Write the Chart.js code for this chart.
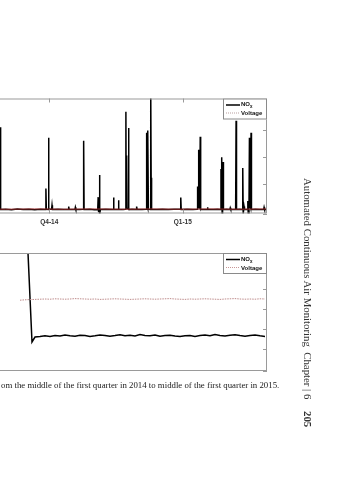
<!DOCTYPE html>
<html>
<head>
<meta charset="utf-8">
<script src="https://cdn.jsdelivr.net/npm/chart.js"></script>
<style>
  body { margin: 0; background: #fff; width: 359px; height: 480px; overflow: hidden; position: relative; }
  canvas { position: absolute; }
  #topChart { left: -20px; top: 90px; }
  #bottomChart { left: -20px; top: 245px; }
  .caption { position: absolute; left: 1px; top: 380px; font: 8.8px "Liberation Serif", serif; color: #1a1a1a; white-space: nowrap; will-change: transform; }
  .running { position: absolute; left: 302px; top: 178px; writing-mode: vertical-rl; font: 10.8px "Liberation Serif", serif; color: #333; white-space: nowrap; will-change: transform; }
  .running b { margin-top: 9px; display: inline-block; }
</style>
</head>
<body>
<canvas id="topChart" width="290" height="140"></canvas>
<canvas id="bottomChart" width="290" height="127"></canvas>
<div class="caption">om the middle of the first quarter in 2014 to middle of the first quarter in 2015.</div>
<div class="running">Automated Continuous Air Monitoring&nbsp; Chapter | 6 <b>205</b></div>

<script>
// top panel: days counted from the start of Q4-14
const quarterTicks = [0, 92];
const quarterLabels = ['Q4-14', 'Q1-15'];

const noxDays = [
  -47, -40, -35, -34.3, -33.9, -33.5, -30, -26, -22, -18, -14, -10, -6,
  -2.7, -2.3, -2.0, -0.8, -0.5, -0.2, 1.6, 1.9, 2.2, 6, 10,
  13.1, 13.4, 13.7, 17.7, 18, 18.3, 21, 23.4, 23.7, 24.0, 28, 31,
  33.4, 33.7, 34.0, 34.3, 34.6, 34.9, 35.2, 39, 44.0, 44.3, 44.6,
  47.4, 47.7, 48.0, 51, 52.5, 52.8, 53.0, 53.3, 53.6, 54.3, 54.6, 54.9,
  57, 60.0, 60.2, 60.5, 64, 66.8, 67.1, 67.4, 67.7, 68.0, 68.3,
  69.6, 69.9, 70.2, 70.5, 74, 78, 82, 86, 90.3, 90.6, 90.9, 95, 99,
  101.9, 102.2, 102.5, 102.8, 103.1, 103.7, 104.0, 104.3, 106,
  108.7, 109, 109.3, 113, 116, 118.0, 118.3, 118.5, 118.8, 119.1, 119.4, 119.7, 120.0,
  122, 124.4, 124.7, 125.0, 128.4, 128.7, 129.0, 131, 133.0, 133.3, 133.6, 134.2, 134.5,
  136.5, 136.8, 137.1, 137.6, 137.9, 138.2, 138.7, 139.0, 139.3, 142, 145,
  147.7, 148, 148.3, 150
];
const noxValues = [
  0.04, 0.05, 0.03, 0.04, 3.11, 0.04, 0.05, 0.03, 0.06, 0.04, 0.05, 0.03, 0.05,
  0.04, 0.82, 0.05, 0.04, 2.72, 0.06, 0.05, 0.2, 0.04, 0.05, 0.04,
  0.04, 0.15, 0.05, 0.04, 0.12, 0.05, 0.04, 0.05, 2.6, 0.04, 0.05, 0.03,
  0.04, 0.5, -0.05, 0.04, 1.33, -0.15, 0.04, 0.05, 0.04, 0.49, 0.05,
  0.04, 0.38, 0.05, 0.04, 0.05, 3.69, 0.3, 2.05, 0.1, 0.05, 3.08, 0.04,
  0.05, 0.04, 0.15, 0.05, 0.04, 0.05, 2.9, 0.2, 0.1, 2.99, 0.05,
  0.04, 4.6, 1.22, 0.05, 0.04, 0.05, 0.04, 0.05, 0.05, 0.49, 0.04, 0.05, 0.04,
  0.05, 0.9, 0.1, 2.27, 0.2, 0.1, 2.75, 0.05, 0.04,
  0.04, 0.12, 0.05, 0.04, 0.05, 0.04, 1.55, 0.1, 1.99, -0.1, 0.2, 1.81, 0.04,
  0.05, 0.04, 0.1, 0.05, 0.04, 3.35, 0.04, 0.05, 0.04, 1.59, -0.12, 0.15, 0.05,
  0.04, 0.36, -0.15, 0.1, 2.72, 0.2, 0.1, 2.9, 0.04, 0.05, 0.04,
  0.04, 0.12, 0.05, 0.04
];
const voltDays = [-47, -30, -10, 10, 30, 50, 70, 90, 110, 130, 150];
const voltValues = [0.06, 0.05, 0.06, 0.05, 0.06, 0.05, 0.06, 0.05, 0.06, 0.05, 0.06];

// bottom panel: hours from the start of the run, sampled every half hour
const runStep = 0.5;
const runNoxStart = [[0, 14.7], [1.2, 1.35]];
const runNox = [
  1.60, 1.62, 1.66, 1.63, 1.68, 1.65, 1.70, 1.66, 1.64, 1.69, 1.67, 1.63, 1.66, 1.70, 1.68, 1.64,
  1.67, 1.71, 1.66, 1.69, 1.65, 1.72, 1.68, 1.66, 1.70, 1.64, 1.67, 1.69, 1.65, 1.62, 1.66, 1.68,
  1.63, 1.67, 1.70, 1.66, 1.72, 1.68, 1.65, 1.69, 1.71, 1.67, 1.64, 1.68, 1.70, 1.66, 1.63
];
const runVoltage = [
  3.44, 3.46, 3.47, 3.48, 3.49, 3.50, 3.49, 3.51, 3.50, 3.49, 3.50, 3.52, 3.51, 3.50, 3.49, 3.50, 3.48,
  3.49, 3.50, 3.51, 3.50, 3.49, 3.48, 3.49, 3.50, 3.51, 3.50, 3.49, 3.50, 3.51, 3.52, 3.50, 3.49,
  3.48, 3.50, 3.49, 3.50, 3.51, 3.50, 3.49, 3.48, 3.50, 3.51, 3.52, 3.50, 3.49, 3.50, 3.49, 3.51, 3.50
];

const frame = {
  id: 'frame',
  afterDatasetsDraw(chart, args, opts) {
    const { ctx, chartArea: a, scales: { x, y } } = chart;
    ctx.save();
    ctx.setLineDash([]);
    ctx.strokeStyle = '#9a9a9a';
    ctx.lineWidth = 1;
    ctx.strokeRect(a.left + 0.5, a.top + 0.5, a.right - a.left - 1, a.bottom - a.top - 1);
    ctx.beginPath();
    y.ticks.forEach(t => {
      const py = Math.round(y.getPixelForValue(t.value)) + 0.5;
      ctx.moveTo(a.right, py); ctx.lineTo(a.right - 4, py);
    });
    if (opts.xTicks) {
      x.ticks.forEach(t => {
        const px = Math.round(x.getPixelForValue(t.value)) + 0.5;
        ctx.moveTo(px, a.top); ctx.lineTo(px, a.top + 4);
        ctx.moveTo(px, a.bottom); ctx.lineTo(px, a.bottom - 4);
      });
    }
    ctx.stroke();

    // legend box in the upper right corner
    const lw = 44, lh = 21, lx = a.right - lw, ly = a.top;
    ctx.fillStyle = '#fff';
    ctx.fillRect(lx, ly, lw, lh);
    ctx.strokeStyle = '#8a8a8a';
    ctx.strokeRect(lx + 0.5, ly + 0.5, lw - 1, lh - 1);
    chart.data.datasets.forEach((ds, i) => {
      const yy = ly + 6.5 + i * 8;
      ctx.strokeStyle = ds.legendColor;
      ctx.lineWidth = ds.legendWidth;
      ctx.setLineDash(ds.legendDash);
      ctx.beginPath(); ctx.moveTo(lx + 3, yy); ctx.lineTo(lx + 17, yy); ctx.stroke();
      ctx.fillStyle = '#111';
      ctx.textBaseline = 'middle';
      ctx.font = 'bold 6px Arial';
      if (ds.label === 'NOx') {
        ctx.fillText('NO', lx + 18, yy - 0.5);
        ctx.font = 'bold 4.5px Arial';
        ctx.fillText('x', lx + 18 + ctx.measureText('NO').width * 1.35, yy + 1.8);
      } else {
        ctx.fillText(ds.label, lx + 18, yy + 0.5);
      }
    });
    ctx.restore();
  }
};

new Chart('topChart', {
  type: 'line',
  data: {
    datasets: [{
      label: 'NOx',
      data: noxDays.map((d, i) => ({ x: d, y: noxValues[i] })),
      borderColor: '#000',
      borderWidth: 1.5,
      pointRadius: 0,
      tension: 0,
      order: 1,
      legendColor: '#000', legendWidth: 1.5, legendDash: []
    }, {
      label: 'Voltage',
      data: voltDays.map((d, i) => ({ x: d, y: voltValues[i] })),
      borderColor: 'rgba(165,45,45,0.9)',
      borderWidth: 1,
      pointRadius: 0,
      tension: 0,
      order: 0,
      legendColor: '#b9a0a0', legendWidth: 1, legendDash: [1, 1]
    }]
  },
  options: {
    responsive: false,
    animation: false,
    layout: { padding: { top: 8.5, right: 3, bottom: 0.5, left: 0 } },
    plugins: { legend: { display: false }, tooltip: { enabled: false }, frame: { xTicks: true } },
    scales: {
      x: {
        type: 'linear', min: -47.7, max: 150,
        grid: { display: false }, border: { display: false },
        afterBuildTicks: s => { s.ticks = quarterTicks.map(v => ({ value: v })); },
        afterFit: s => { s.height = 16; },
        ticks: {
          padding: -3, maxRotation: 0, color: '#333', font: { size: 6.5, family: 'Arial', weight: 'bold' },
          callback: v => quarterLabels[quarterTicks.indexOf(v)]
        }
      },
      y: { display: false, min: -0.11, max: 4.18, ticks: { stepSize: 1 } }
    }
  },
  plugins: [frame]
});

new Chart('bottomChart', {
  type: 'line',
  data: {
    datasets: [{
      label: 'NOx',
      data: runNoxStart.map(p => ({ x: p[0], y: p[1] }))
        .concat(runNox.map((v, i) => ({ x: 1.5 + i * runStep, y: v }))),
      borderColor: '#000',
      borderWidth: 1.5,
      pointRadius: 0,
      tension: 0,
      order: 1,
      legendColor: '#000', legendWidth: 1.5, legendDash: []
    }, {
      label: 'Voltage',
      data: runVoltage.map((v, i) => ({ x: i * runStep, y: v })),
      borderColor: 'rgb(190,140,140)',
      borderWidth: 1,
      borderDash: [1.5, 1],
      pointRadius: 0,
      tension: 0,
      order: 0,
      legendColor: 'rgb(200,150,150)', legendWidth: 1, legendDash: [1, 1]
    }]
  },
  options: {
    responsive: false,
    animation: false,
    layout: { padding: { top: 8, right: 3, bottom: 1, left: 0 } },
    plugins: { legend: { display: false }, tooltip: { enabled: false }, frame: { xTicks: false } },
    scales: {
      x: { type: 'linear', display: false, min: -4, max: 24.7 },
      y: { display: false, min: -0.1, max: 5.8, ticks: { stepSize: 1 } }
    }
  },
  plugins: [frame]
});
</script>
</body>
</html>
